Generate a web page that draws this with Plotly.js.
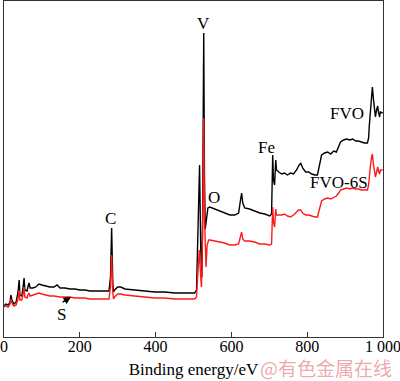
<!DOCTYPE html>
<html>
<head>
<meta charset="utf-8">
<script src="https://cdn.plot.ly/plotly-3.0.1.min.js"></script>
<style>html,body{margin:0;padding:0;background:#fff;}#chart{width:400px;height:381px;}</style>
</head>
<body>
<div id="chart"></div>
<script>
// FVO (black) survey spectrum: binding energy (eV) and intensity (a.u.)
const fvoEnergy = [0,5,11,16,18,21,26,32,37,40,42,47,50,53,55,61,63,66,69,76,84,92,100,111,121,132,140,148,161,174,187,200,213,227,240,253,266,277,281,284,287,289,292,300,308,319,345,372,398,424,451,477,503,508,512,516,519,522,524,527,529,531,533,538,543,556,569,582,596,609,619,624,627,630,635,648,661,675,688,701,706,709,711,714,717,719,725,733,740,748,756,764,772,777,783,788,796,804,812,820,827,833,838,846,854,862,870,877,883,888,896,904,912,920,928,935,943,951,959,962,964,967,970,972,975,978,980,983,986,988,991,993,999];
const fvoIntensity = [31,33,32,35,42,37,33,35,45,57,42,41,49,59,47,46,50,54,49,49,50,53,52,51,50,50,52,49,49,48,48,47,47,46,46,46,46,46,60,109,55,45,47,50,50,48,47,46,45,45,44,44,44,47,100,172,90,60,120,304,160,108,114,129,130,128,126,124,122,122,124,137,144,134,129,128,126,124,123,121,123,182,157,152,177,167,165,163,164,162,164,163,167,171,174,169,165,165,163,162,162,174,182,184,185,183,186,185,191,195,197,198,197,198,196,196,195,194,194,199,212,227,242,250,237,225,220,227,231,225,220,225,224];

// FVO-6S (red) survey spectrum
const fvo6sEnergy = [0,5,11,16,18,21,26,32,37,40,42,47,50,53,55,61,63,66,69,76,84,92,100,111,121,132,148,161,174,187,200,213,227,240,253,266,277,281,284,287,289,292,300,308,319,345,372,398,424,451,477,503,508,512,515,519,521,524,527,529,531,533,536,540,543,556,569,582,596,609,619,624,627,630,635,648,661,675,688,701,706,709,711,714,717,719,725,733,740,748,756,764,772,777,783,788,796,804,812,820,827,833,838,846,854,862,870,877,883,888,896,904,912,920,928,935,943,951,959,962,964,967,970,972,975,978,980,983,986,988,991,993,999];
const fvo6sIntensity = [30,31,30,33,38,34,31,32,38,47,37,37,42,50,40,39,42,44,41,42,43,44,43,42,41,41,40,40,40,39,39,39,38,38,38,38,38,50,82,45,38,40,43,43,42,41,40,39,39,38,38,38,40,70,87,60,50,100,219,120,75,70,92,97,97,96,95,94,92,92,93,100,105,98,96,96,95,93,93,92,93,130,115,110,128,122,122,122,123,121,120,122,125,127,127,124,122,122,121,120,120,128,136,138,139,138,140,141,144,147,148,149,148,149,148,148,147,147,147,152,162,172,180,183,172,163,160,165,170,166,163,167,167];

// Tick labels
const tickValues = [0,200,400,600,800,1000];
const tickLabels = ["0","200","400","600","800","1 000"];

// Peak labels
const peakLabels = ["V","C","S","O","Fe","FVO","FVO-6S"];
const peakLabelEnergy = [527,282,153,553,693,906,885];
const peakLabelIntensity = [314,119,23,140,190,224,155];

const serif = "Liberation Serif, Times New Roman, serif";

const traces = [
  {x: fvoEnergy, y: fvoIntensity, type: "scatter", mode: "lines", name: "FVO",
   line: {color: "#000000", width: 1.4}},
  {x: fvo6sEnergy, y: fvo6sIntensity, type: "scatter", mode: "lines", name: "FVO-6S",
   line: {color: "#ff1a1a", width: 1.4}}
];

const annotations = peakLabels.map((t, i) => ({
  x: peakLabelEnergy[i], y: peakLabelIntensity[i], xref: "x", yref: "y",
  text: t, showarrow: false, font: {family: serif, size: 17, color: "#000"}
}));
// arrow for S
annotations.push({x: 177, y: 40, xref: "x", yref: "y", text: "", showarrow: true,
  ax: -10, ay: 6, arrowhead: 2, arrowsize: 1, arrowwidth: 1.5, arrowcolor: "#000"});
// watermark (paper coordinates relative to plot area)
annotations.push({x: (326 - 4) / 379, y: (337 - 368) / 336, xref: "paper", yref: "paper",
  text: "@有色金属在线", showarrow: false, xanchor: "center", yanchor: "middle",
  font: {family: "Noto Sans CJK SC", size: 19, color: "rgba(225,120,125,0.65)"}});

const layout = {
  width: 400, height: 381,
  margin: {l: 4, r: 17, t: 1, b: 44},
  paper_bgcolor: "#fff", plot_bgcolor: "#fff",
  showlegend: false,
  xaxis: {
    range: [0, 1000], tickvals: tickValues, ticktext: tickLabels,
    ticks: "inside", ticklen: 5, tickwidth: 1, tickcolor: "#333",
    ticklabeloverflow: "allow", ticklabelstandoff: -5,
    showline: true, linecolor: "#333", linewidth: 1.2, mirror: true,
    showgrid: false, zeroline: false,
    tickfont: {family: serif, size: 16, color: "#000"},
    title: {text: "Binding energy/eV", font: {family: serif, size: 17, color: "#000"}, standoff: 8}
  },
  yaxis: {
    range: [0, 336], showticklabels: false, ticks: "",
    showline: true, linecolor: "#333", linewidth: 1.2, mirror: true,
    showgrid: false, zeroline: false
  },
  annotations: annotations
};

Plotly.newPlot("chart", traces, layout, {displayModeBar: false, staticPlot: true});
</script>
</body>
</html>
